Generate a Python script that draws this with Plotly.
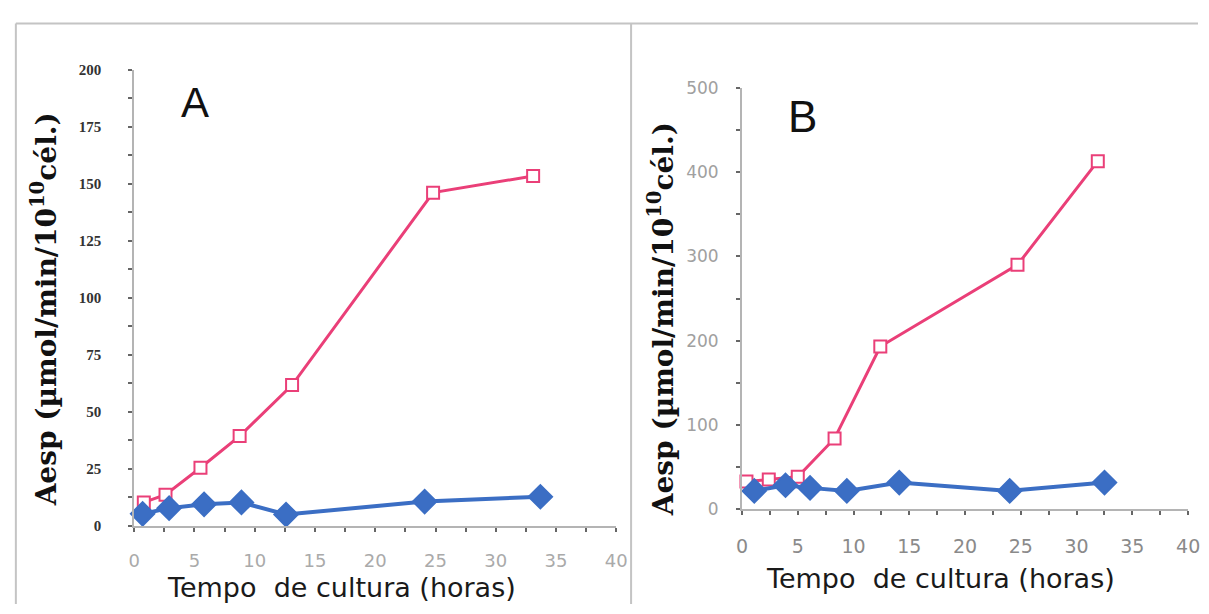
import plotly.graph_objects as go

W, H = 1209, 614

# ---- data ----
a_pink_x = [0.8, 2.6, 5.5, 8.75, 13.1, 24.8, 33.1]
a_pink_y = [10.3, 13.7, 25.5, 39.4, 61.8, 146.2, 153.5]
a_blue_x = [0.7, 2.9, 5.8, 8.9, 12.6, 24.1, 33.7]
a_blue_y = [5.3, 7.8, 9.5, 10.3, 5.0, 10.7, 12.8]

b_pink_x = [0.4, 2.4, 5.0, 8.3, 12.4, 24.7, 31.9]
b_pink_y = [32.9, 35.2, 38.4, 83.9, 193.0, 290.0, 413.0]
b_blue_x = [1.1, 3.9, 6.1, 9.4, 14.1, 24.0, 32.5]
b_blue_y = [21.7, 28.4, 25.3, 21.7, 31.6, 21.7, 31.6]

x_ticks = [0, 5, 10, 15, 20, 25, 30, 35, 40]
a_y_ticks = [0, 25, 50, 75, 100, 125, 150, 175, 200]
b_y_ticks = [0, 100, 200, 300, 400, 500]

y_title = "Aesp (µmol/min/10<sup>10</sup>cél.)"
x_title = "Tempo  de cultura (horas)"

PINK = "#ea3f78"
BLUE = "#3b6ec4"

def px_x(p):
    return p / W

def px_y(p):
    return 1 - p / H

fig = go.Figure()

def add_series(x, y, xa, ya, color, symbol, size, fill, lw):
    fig.add_trace(go.Scatter(
        x=x, y=y, xaxis=xa, yaxis=ya, mode="lines+markers",
        line=dict(color=color, width=lw),
        marker=dict(symbol=symbol, size=size, color=fill,
                    line=dict(color=color, width=2)),
        cliponaxis=False, showlegend=False, hoverinfo="skip"))

add_series(a_pink_x, a_pink_y, "x", "y", PINK, "square", 12, "white", 3)
add_series(a_blue_x, a_blue_y, "x", "y", BLUE, "diamond", 18, BLUE, 4)
add_series(b_pink_x, b_pink_y, "x2", "y2", PINK, "square", 12, "white", 3)
add_series(b_blue_x, b_blue_y, "x2", "y2", BLUE, "diamond", 18, BLUE, 4)

axis_common = dict(showgrid=False, zeroline=False, showline=True,
                   linecolor="#b4b4b4", linewidth=2,
                   ticks="outside", ticklen=4, tickwidth=2, tickcolor="#666")

xfont_a = dict(family="DejaVu Sans", size=18, color="#aaaaaa")
xfont_b = dict(family="DejaVu Sans", size=19, color="#8a8a8a")

fig.update_layout(
    width=W, height=H, margin=dict(l=0, r=0, t=0, b=0),
    paper_bgcolor="white", plot_bgcolor="white",
    xaxis=dict(domain=[px_x(130), px_x(619)], range=[0, 40], anchor="y",
               tickvals=x_ticks, tickfont=xfont_a, ticklabelstandoff=13,
               minor=dict(dtick=2.5, ticks="outside", ticklen=4,
                          tickcolor="#666", tickwidth=2),
               **axis_common),
    yaxis=dict(domain=[px_y(533.3), px_y(62)], range=[0, 200], anchor="x",
               tickvals=a_y_ticks,
               tickfont=dict(family="Liberation Serif", size=15, color="#333333",
                             weight="bold"),
               ticklabelstandoff=24,
               minor=dict(dtick=12.5, ticks="outside", ticklen=4,
                          tickcolor="#666", tickwidth=2),
               **axis_common),
    xaxis2=dict(domain=[px_x(746.5), px_x(1199)], range=[0, 40], anchor="y2",
                tickvals=x_ticks, tickfont=xfont_b, ticklabelstandoff=15,
                minor=dict(dtick=2.5, ticks="outside", ticklen=4,
                           tickcolor="#666", tickwidth=2),
                **axis_common),
    yaxis2=dict(domain=[px_y(516), px_y(80.5)], range=[0, 500], anchor="x2",
                tickvals=b_y_ticks,
                tickfont=dict(family="DejaVu Sans", size=17, color="#a0a0a0"),
                ticklabelstandoff=14,
                minor=dict(dtick=50, ticks="outside", ticklen=4,
                           tickcolor="#666", tickwidth=2),
                **axis_common),
)

def note(text, cx, cy, font, angle=0):
    return dict(text=text, x=px_x(cx), y=px_y(cy), xref="paper", yref="paper",
                xanchor="center", yanchor="middle", showarrow=False,
                textangle=angle, font=font)

ann = [
    note("A", 192, 96, dict(family="Liberation Sans", size=42, color="#111")),
    note("B", 808, 110, dict(family="Liberation Sans", size=44, color="#111")),
]
for cx, cy in [(40, 309), (665, 320)]:
    ann.append(note("<b>" + y_title + "</b>", cx, cy,
                    dict(family="DejaVu Serif", size=28, color="#111"), -90))
for cx, cy in [(340, 597), (948, 588)]:
    ann.append(note(x_title, cx, cy,
                    dict(family="DejaVu Sans", size=27, color="#1a1a1a")))
fig.update_layout(annotations=ann)

# frame lines of the scanned figure
shapes = [
    dict(type="line", xref="paper", yref="paper", x0=px_x(10), x1=1, y0=px_y(14), y1=px_y(14),
         line=dict(color="#c4c4c4", width=2)),
    dict(type="line", xref="paper", yref="paper", x0=px_x(10), x1=px_x(10), y0=px_y(14), y1=0,
         line=dict(color="#c4c4c4", width=2)),
    dict(type="line", xref="paper", yref="paper", x0=px_x(634), x1=px_x(634), y0=px_y(14), y1=0,
         line=dict(color="#c4c4c4", width=2)),
]
fig.update_layout(shapes=shapes)

fig.write_html("out.html")
